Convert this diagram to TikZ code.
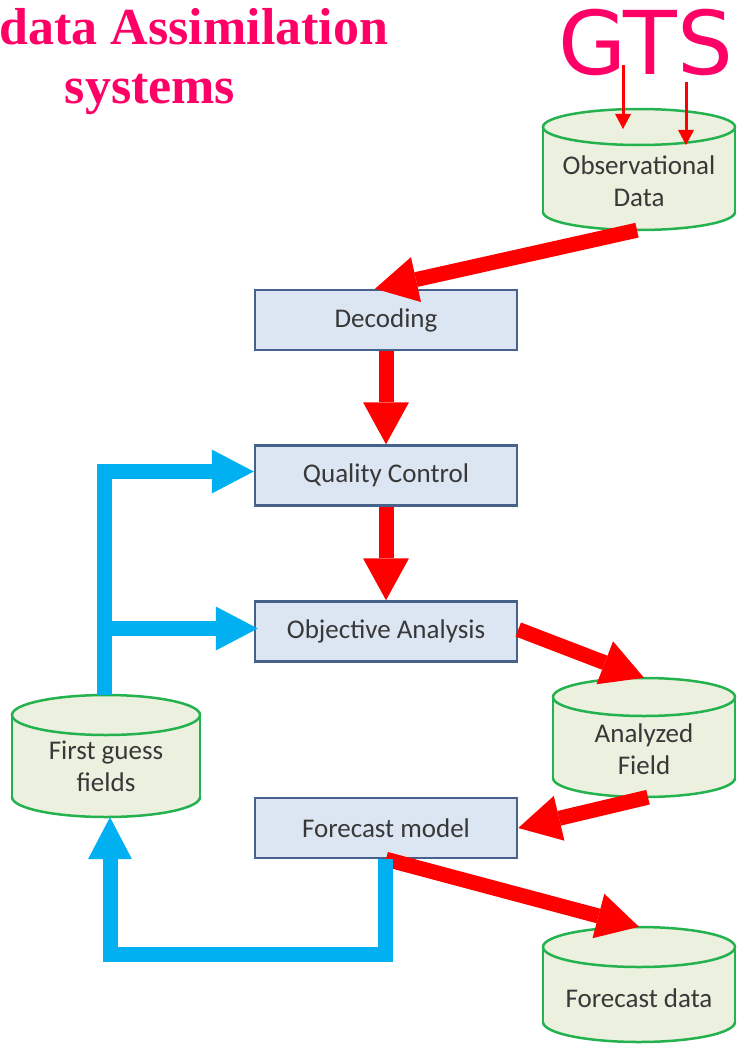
\documentclass[tikz,border=0pt]{standalone}
\usepackage{fontspec}
\setmainfont{Liberation Serif}
\newfontfamily\boxfont{Carlito}
\newfontfamily\gtsfont{DejaVu Sans}
\usetikzlibrary{arrows.meta,calc}
\definecolor{pinkt}{HTML}{FF0066}
\definecolor{redc}{HTML}{FF0000}
\definecolor{bluec}{HTML}{00B0F0}
\definecolor{boxbg}{HTML}{DCE6F2}
\definecolor{boxline}{HTML}{46618A}
\definecolor{cylbg}{HTML}{EBF0DF}
\definecolor{cylgreen}{HTML}{24B24E}
\definecolor{textgray}{HTML}{383838}
\tikzset{
  procbox/.style={draw=boxline, fill=boxbg, line width=2.5pt, minimum width=262pt,
    minimum height=60pt, inner sep=0pt, font=\boxfont\fontsize{27}{32}\selectfont, text=textgray},
  cylfill/.style={fill=cylbg},
  cylline/.style={draw=cylgreen, line width=2.5pt},
  cylbox/.style={draw=none, inner sep=0pt, rectangle},
  cyltext/.style={font=\boxfont\fontsize{27}{32}\selectfont, align=center, text=textgray, inner sep=0pt},
  titletext/.style={font=\bfseries\fontsize{52}{60}\selectfont, text=pinkt, inner sep=0pt, anchor=base},
  redarrow/.style={draw=redc, line width=15pt, -{Triangle[length=42pt,width=46pt,line width=0pt]}},
  bluearrow/.style={draw=bluec, line width=15pt, line join=miter, -{Triangle[length=42pt,width=44pt,line width=0pt]}},
  gtsarrow/.style={draw=redc, line width=3pt, -{Triangle[length=15pt,width=16pt,line width=0pt]}}
}
\newcommand\dbcyl[8]{%
  \fill[cylfill] (#2-#5,#3) rectangle (#2+#5,#4);
  \fill[cylfill] (#2,#4) ellipse [x radius=#5, y radius=#6];
  \begin{scope}
    \clip (#2-#5-5,#4) rectangle (#2+#5+5,#4+#6+5);
    \draw[cylline] (#2,#4) ellipse [x radius=#5, y radius=#6];
  \end{scope}
  \draw[cylline] (#2-#5,#3) -- (#2-#5,#4) (#2+#5,#3) -- (#2+#5,#4);
  \draw[cylline,cylfill] (#2,#3) ellipse [x radius=#5, y radius=#6];
  \node[cylbox, minimum width=2*#5, minimum height=#4-#3+2*#6] (#1) at (#2,#3/2+#4/2) {};
  \node[cyltext] (#1-text) at (#2,#8) {#7};
}
\begin{document}
\begin{tikzpicture}[x=1pt,y=-1pt]
\useasboundingbox (0,0) rectangle (737,1046);
\clip (0,0) rectangle (737,1046);

% titles
\node[titletext] (t1) at (194,45) {data Assimilation};
\node[titletext] (t2) at (150,103) {systems};
\node[font=\gtsfont\fontsize{88}{90}\selectfont, text=pinkt, inner sep=0pt, anchor=base] (gts) at (646,75) {GTS};

% cylinders
\dbcyl{obs}{639}{127}{212}{96}{18}{Observational\\Data}{181}
\dbcyl{ana}{644}{697}{778}{91}{19}{Analyzed\\Field}{749}
\dbcyl{fg}{106}{715}{797}{94}{20}{First guess\\fields}{766}
\dbcyl{fcd}{639}{947}{1022}{96}{20}{Forecast data}{998}

% process boxes
\node[procbox] (dec) at (386,320) {Decoding};
\node[procbox] (qc) at (386,475.5) {Quality Control};
\node[procbox] (oa) at (386,631.5) {Objective Analysis};
\node[procbox] (fm) at (386,828) {Forecast model};

% GTS arrows
\coordinate (g1) at (623,65);
\coordinate (g2) at (686,82);
\draw[gtsarrow] (g1) -- (g1 |- 0,129);
\draw[gtsarrow] (g2) -- (g2 |- 0,145);

% red arrows
\draw[redarrow] ([xshift=-2pt]obs.south) -- ([xshift=-11pt]dec.north);
\draw[redarrow] (dec.south) -- (qc.north);
\draw[redarrow] (qc.south) -- (oa.north);
\draw[redarrow] ([yshift=2pt]oa.east) -- (ana.north);
\draw[redarrow] ([xshift=4pt]ana.south) -- (fm.east);
\draw[redarrow] (fm.south) -- (fcd.north);

% blue arrows
\coordinate (trunk) at ([xshift=-2pt]fg.north);
\coordinate (qctip) at ([yshift=4pt]qc.west);
\coordinate (oatip) at ([xshift=4pt,yshift=3pt]oa.west);
\draw[bluearrow] (trunk) |- (qctip);
\draw[bluearrow] (trunk |- oatip) -- (oatip);
\draw[bluearrow] ([xshift=-1pt]fm.south) -- ++(0,95) -| ([xshift=4pt]fg.south);
\end{tikzpicture}
\end{document}
